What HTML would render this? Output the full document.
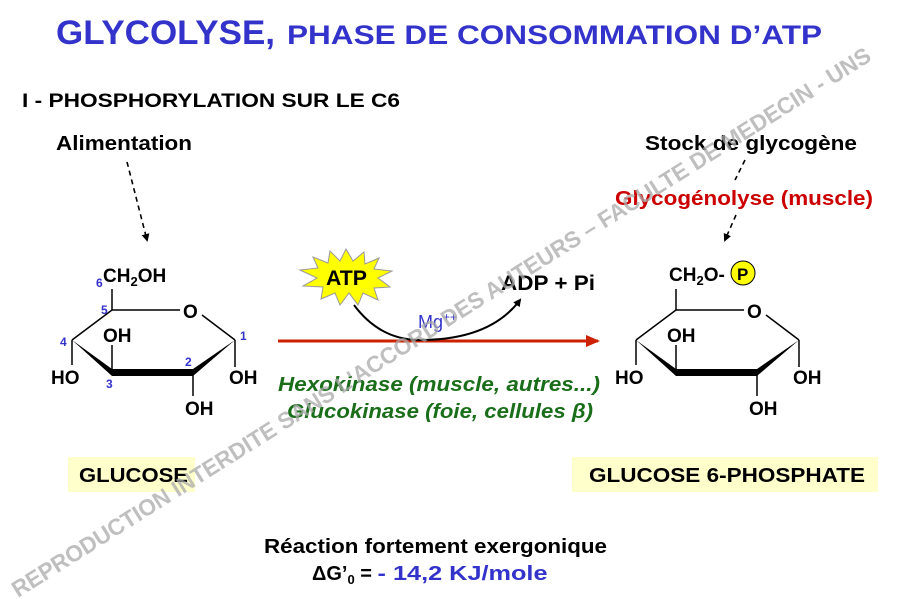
<!DOCTYPE html>
<html><head><meta charset="utf-8"><style>
html,body{margin:0;padding:0;background:#fff;}
svg{display:block;font-family:"Liberation Sans",Arial,sans-serif;font-weight:bold;}
</style></head><body>
<svg width="905" height="599" viewBox="0 0 905 599" xmlns="http://www.w3.org/2000/svg">
<defs>
<marker id="ah" markerWidth="8" markerHeight="8" refX="6" refY="4" orient="auto" markerUnits="userSpaceOnUse"><path d="M0,0 L8,4 L0,8 Z" fill="#000"/></marker>
<marker id="rh" markerWidth="14" markerHeight="12" refX="12" refY="6" orient="auto" markerUnits="userSpaceOnUse"><path d="M0,0 L14,6 L0,12 Z" fill="#cc2200"/></marker>
<g id="ring">
 <line x1="112" y1="310" x2="180" y2="310" stroke="#000" stroke-width="1.5"/>
 <line x1="202" y1="315" x2="235" y2="340" stroke="#000" stroke-width="1.5"/>
 <line x1="112" y1="310" x2="72" y2="340" stroke="#000" stroke-width="1.5"/>
 <polygon points="72,340 112,369 112,376" fill="#000"/>
 <polygon points="112,369 193,369 193,376 112,376" fill="#000"/>
 <polygon points="193,369 235,340 193,376" fill="#000"/>
 <line x1="112" y1="345" x2="112" y2="372" stroke="#000" stroke-width="1.5"/>
 <line x1="72" y1="340" x2="72" y2="365" stroke="#000" stroke-width="1.5"/>
 <line x1="235" y1="340" x2="235" y2="367" stroke="#000" stroke-width="1.5"/>
 <line x1="193" y1="372" x2="193" y2="396" stroke="#000" stroke-width="1.5"/>
 <line x1="112" y1="289" x2="112" y2="310" stroke="#000" stroke-width="1.5"/>
 <text x="183" y="318" font-size="19">O</text>
 <text x="103" y="342" font-size="19">OH</text>
 <text x="51" y="384" font-size="19">HO</text>
 <text x="229" y="384" font-size="19">OH</text>
 <text x="185" y="415" font-size="19">OH</text>
</g>
</defs>
<text x="56" y="44" font-size="34" fill="#3333cc" textLength="219" lengthAdjust="spacingAndGlyphs">GLYCOLYSE,</text>
<text x="287" y="44" font-size="27" fill="#3333cc" textLength="535" lengthAdjust="spacingAndGlyphs">PHASE DE CONSOMMATION D’ATP</text>
<text x="22" y="107" font-size="19" textLength="378" lengthAdjust="spacingAndGlyphs">I - PHOSPHORYLATION SUR LE C6</text>
<text x="56" y="150" font-size="20" textLength="136" lengthAdjust="spacingAndGlyphs">Alimentation</text>
<line x1="127" y1="162" x2="147" y2="240" stroke="#000" stroke-width="1.6" stroke-dasharray="5,4" marker-end="url(#ah)"/>
<text x="645" y="150" font-size="20" textLength="212" lengthAdjust="spacingAndGlyphs">Stock de glycogène</text>
<text x="615" y="205" font-size="20" fill="#cc0000" textLength="258" lengthAdjust="spacingAndGlyphs">Glycogénolyse (muscle)</text>
<line x1="745" y1="160" x2="735" y2="180" stroke="#000" stroke-width="1.6" stroke-dasharray="5,4"/>
<line x1="736" y1="215" x2="725" y2="240" stroke="#000" stroke-width="1.6" stroke-dasharray="5,4" marker-end="url(#ah)"/>

<use href="#ring"/>
<text x="103" y="282" font-size="19">CH<tspan font-size="13" dy="4">2</tspan><tspan dy="-4">OH</tspan></text>
<g fill="#3333cc" font-size="12">
<text x="96" y="287">6</text><text x="101" y="314">5</text><text x="60" y="346">4</text><text x="106" y="388">3</text><text x="185" y="366">2</text><text x="240" y="340">1</text>
</g>
<use href="#ring" transform="translate(564,0)"/>
<text x="669" y="281" font-size="19">CH<tspan font-size="13" dy="4">2</tspan><tspan dy="-4">O-</tspan></text>
<circle cx="743" cy="273" r="12" fill="#ffff00" stroke="#000" stroke-width="1"/>
<text x="737" y="280" font-size="17">P</text>

<line x1="278" y1="341" x2="598" y2="341" stroke="#cc2200" stroke-width="3" marker-end="url(#rh)"/>
<path d="M354,305 Q380,340 420,340 Q490,340 520,300" fill="none" stroke="#000" stroke-width="2" marker-end="url(#ah)"/>
<polygon points="346,249 353,261 364,252 365,264 379,258 374,269 392,271 378,278 390,287 374,288 378,300 363,293 358,305 349,293 340,305 335,293 321,299 323,287 303,286 317,278 300,270 318,268 313,257 328,263 330,251 340,261" fill="#ffff00" stroke="#999" stroke-width="1"/>
<text x="326" y="285" font-size="21" textLength="41" lengthAdjust="spacingAndGlyphs">ATP</text>
<text x="501" y="290" font-size="21" textLength="94" lengthAdjust="spacingAndGlyphs">ADP + Pi</text>
<text x="418" y="328" font-size="18" fill="#3333cc" font-weight="normal">Mg<tspan font-size="12" dy="-7">++</tspan></text>
<text x="278" y="391" font-size="20" fill="#1a6e1a" font-style="italic" textLength="322" lengthAdjust="spacingAndGlyphs">Hexokinase (muscle, autres...)</text>
<text x="287" y="418" font-size="20" fill="#1a6e1a" font-style="italic" textLength="306" lengthAdjust="spacingAndGlyphs">Glucokinase (foie, cellules β)</text>

<rect x="68" y="457" width="127" height="35" fill="#ffffcc"/>
<text x="79" y="482" font-size="20" textLength="109" lengthAdjust="spacingAndGlyphs">GLUCOSE</text>
<rect x="572" y="457" width="306" height="35" fill="#ffffcc"/>
<text x="589" y="482" font-size="20" textLength="276" lengthAdjust="spacingAndGlyphs">GLUCOSE 6-PHOSPHATE</text>

<text x="264" y="553" font-size="20" textLength="343" lengthAdjust="spacingAndGlyphs">Réaction fortement exergonique</text>
<text x="312" y="580" font-size="20">ΔG’<tspan font-size="13" dy="4">0</tspan><tspan dy="-4"> = </tspan><tspan fill="#3333cc" textLength="170" lengthAdjust="spacingAndGlyphs">- 14,2 KJ/mole</tspan></text>

<text x="0" y="0" font-size="23" fill="#aaaaaa" fill-opacity="0.75" transform="translate(18,598) rotate(-32.2)" textLength="1010" lengthAdjust="spacingAndGlyphs">REPRODUCTION INTERDITE SANS L'ACCORD DES AUTEURS – FACULTE DE MEDECIN - UNS</text>
</svg>
</body></html>
